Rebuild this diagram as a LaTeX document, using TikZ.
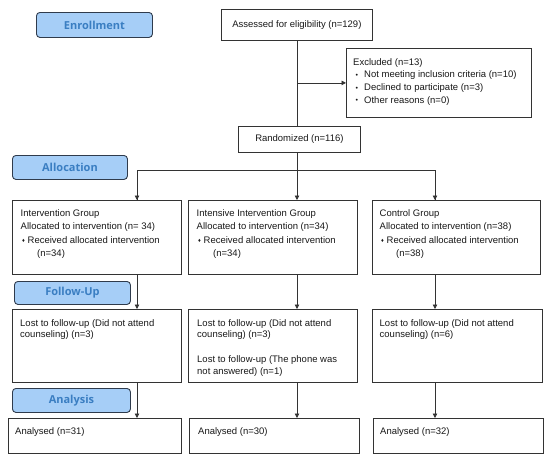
\documentclass[tikz,border=0pt]{standalone}
\usepackage{fontspec}
\setmainfont{Liberation Sans}
\newfontfamily\labfont{Open Sans}
\usetikzlibrary{arrows.meta}
\definecolor{labfill}{HTML}{A6CEF7}
\definecolor{labtext}{HTML}{3A7EC2}
\definecolor{labdraw}{HTML}{2F3B4C}
\definecolor{linec}{HTML}{333333}
\newcommand{\dbul}{\makebox[7pt][l]{\hspace{1.5pt}\raisebox{0.6pt}{\fontsize{5.5}{5.5}\selectfont ♦}}}
\newcommand{\rbul}{\makebox[11pt][l]{\hspace{2.5pt}\raisebox{0.3pt}{\fontsize{7}{7}\selectfont •}}}
\begin{document}
\begin{tikzpicture}[x=1pt,y=-1pt,
  box/.style={draw=linec, line width=0.8pt, inner sep=0pt, anchor=north west},
  stage/.style={draw=labdraw, fill=labfill, line width=0.9pt, rounded corners=3.5pt,
     inner sep=0pt, anchor=north west, text=labtext, font=\labfont\bfseries\fontsize{11}{13}\selectfont},
  txt/.style={inner sep=0pt, anchor=north west, align=left, text=black!90},
  ctxt/.style={inner sep=0pt, text=black!90, font=\fontsize{9.5}{12}\selectfont},
  conn/.style={draw=linec, line width=0.8pt},
  arr/.style={conn, -{Triangle[length=4.5pt,width=4.5pt]}}]
\useasboundingbox (0,0) rectangle (550,461);
\fill[white] (0,0) rectangle (550,461);
% stage labels
\node[stage, minimum width=116, minimum height=25] (enr) at (36,12) {Enrollment};
\node[stage, minimum width=115, minimum height=24] (alo) at (12,155) {Allocation};
\node[stage, minimum width=116, minimum height=23] (fol) at (14,281) {Follow-Up};
\node[stage, minimum width=118, minimum height=24] (ana) at (12,388) {Analysis};
% top boxes
\node[box, minimum width=151, minimum height=31] (assess) at (221,9) {};
\node[ctxt] (assesst) at (assess.center) {Assessed for eligibility (n=129)};
\node[box, minimum width=185, minimum height=69] (excl) at (346,48) {};
\node[txt, font=\fontsize{9.5}{12.7}\selectfont] (exclt) at ([shift={(7,10.1)}]excl.north west)
  {Excluded (n=13)\\\rbul Not meeting inclusion criteria (n=10)\\\rbul Declined to participate (n=3)\\\rbul Other reasons (n=0)};
\node[box, minimum width=122, minimum height=26] (rand) at (238,126) {};
\node[ctxt] (randt) at (rand.center) {Randomized (n=116)};
% group boxes
\node[box, minimum width=169, minimum height=74] (g1) at (12,200) {};
\node[box, minimum width=169, minimum height=74] (g2) at (188,200) {};
\node[box, minimum width=168, minimum height=74] (g3) at (372,200) {};
\tikzset{gtxt/.style={txt, font=\fontsize{9.5}{13.4}\selectfont}}
\node[gtxt] (g1t) at ([shift={(8.5,9.2)}]g1.north west)
  {Intervention Group\\Allocated to intervention (n= 34)\\\dbul Received allocated intervention\\\hspace{16.5pt}(n=34)};
\node[gtxt] (g2t) at ([shift={(8.5,9.2)}]g2.north west)
  {Intensive Intervention Group\\Allocated to intervention (n=34)\\\dbul Received allocated intervention\\\hspace{16.5pt}(n=34)};
\node[gtxt] (g3t) at ([shift={(7.5,9.2)}]g3.north west)
  {Control Group\\Allocated to intervention (n=38)\\\dbul Received allocated intervention\\\hspace{16.5pt}(n=38)};
% lost boxes
\node[box, minimum width=169, minimum height=73] (l1) at (12,309) {};
\node[box, minimum width=169, minimum height=73] (l2) at (188,309) {};
\node[box, minimum width=170, minimum height=73] (l3) at (372,309) {};
\tikzset{ltxt/.style={txt, font=\fontsize{9.5}{11.5}\selectfont}}
\node[ltxt] (l1t) at ([shift={(8,10)}]l1.north west)
  {Lost to follow-up (Did not attend\\counseling) (n=3)};
\node[ltxt] (l2t) at ([shift={(9,10)}]l2.north west)
  {Lost to follow-up (Did not attend\\counseling) (n=3)\\[13.8pt]Lost to follow-up (The phone was\\not answered) (n=1)};
\node[ltxt] (l3t) at ([shift={(7.5,10)}]l3.north west)
  {Lost to follow-up (Did not attend\\counseling) (n=6)};
% analysed boxes
\node[box, minimum width=173, minimum height=35] (a1) at (8,418) {};
\node[box, minimum width=170, minimum height=35] (a2) at (189,418) {};
\node[box, minimum width=170, minimum height=35] (a3) at (373,418) {};
\tikzset{atxt/.style={txt, font=\fontsize{9.5}{11.5}\selectfont}}
\node[atxt] (a1t) at ([shift={(7,9.5)}]a1.north west) {Analysed (n=31)};
\node[atxt] (a2t) at ([shift={(9,9.5)}]a2.north west) {Analysed (n=30)};
\node[atxt] (a3t) at ([shift={(7,9.5)}]a3.north west) {Analysed (n=32)};
% connectors
\coordinate (sp) at (297,40);
\coordinate (c1) at (137,170);
\coordinate (c2) at (297,170);
\coordinate (c3) at (435,170);
\draw[conn] (sp |- assess.south) -- (sp |- rand.north);
\draw[arr] (sp |- excl.west) -- (excl.west);
\draw[arr] (sp |- rand.south) -- (sp |- g2.north);
\draw[conn] (c1 |- g1.north) -- (c1) -- (c3) -- (c3 |- g3.north);
\draw[arr] (c1) -- (c1 |- g1.north);
\draw[arr] (c3) -- (c3 |- g3.north);
\draw[arr] (c1 |- g1.south) -- (c1 |- l1.north);
\draw[arr] (c2 |- g2.south) -- (c2 |- l2.north);
\draw[arr] (c3 |- g3.south) -- (c3 |- l3.north);
\draw[arr] (c1 |- l1.south) -- (c1 |- a1.north);
\draw[arr] (c2 |- l2.south) -- (c2 |- a2.north);
\draw[arr] (c3 |- l3.south) -- (c3 |- a3.north);
\end{tikzpicture}
\end{document}
